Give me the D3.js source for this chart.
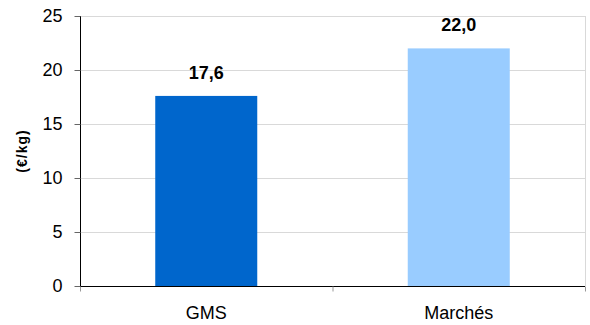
<!DOCTYPE html>
<html>
<head>
<meta charset="utf-8">
<script src="https://cdn.jsdelivr.net/npm/d3@7"></script>
<style>
  body { margin: 0; background: #fff; }
  text { font-family: "Liberation Sans", Arial, sans-serif; fill: #000; }
</style>
</head>
<body>
<svg id="chart"></svg>
<script>
// prix moyen par circuit
const categories = ["GMS", "Marchés"];
const values = [17.6, 22.0];
const barColors = ["#0066CC", "#99CCFF"];
const yTicks = [0, 5, 10, 15, 20, 25];

const width = 590, height = 325;
const margin = {top: 16, right: 5, bottom: 39, left: 80};

var svg = d3.select('svg#chart')
  .attr('width', width)
  .attr('height', height);

var x = d3.scaleBand()
  .domain(categories)
  .range([margin.left, width - margin.right])
  .paddingInner(0.596)
  .paddingOuter(0.298);

var y = d3.scaleLinear()
  .domain([0, 25])
  .range([height - margin.bottom, margin.top]);

// gridlines
svg.append('g')
  .selectAll('line')
  .data(yTicks.filter(d => d > 0))
  .enter().append('line')
  .attr('x1', margin.left)
  .attr('x2', width - margin.right)
  .attr('y1', d => y(d) + 0.5)
  .attr('y2', d => y(d) + 0.5)
  .style('stroke', '#d9d9d9');

// right border
svg.append('line')
  .attr('x1', width - margin.right + 0.5)
  .attr('x2', width - margin.right + 0.5)
  .attr('y1', margin.top)
  .attr('y2', height - margin.bottom)
  .style('stroke', '#d9d9d9');

// bars
svg.append('g')
  .selectAll('rect')
  .data(values)
  .enter().append('rect')
  .attr('x', (d, i) => x(categories[i]))
  .attr('width', x.bandwidth())
  .attr('y', d => y(d))
  .attr('height', d => y(0) - y(d))
  .style('fill', (d, i) => barColors[i]);

// value labels
svg.append('g')
  .selectAll('text')
  .data(values)
  .enter().append('text')
  .attr('x', (d, i) => x(categories[i]) + x.bandwidth() / 2)
  .attr('y', d => y(d) - 17)
  .attr('text-anchor', 'middle')
  .style('font-size', '18px')
  .style('font-weight', 'bold')
  .text(d => d.toFixed(1).replace('.', ','));

// y axis
var yAxis = svg.append('g')
  .attr('transform', 'translate(' + (margin.left + 0.5) + ',0)')
  .call(d3.axisLeft(y).tickValues(yTicks).tickSize(6).tickPadding(12));
yAxis.select('.domain').attr('d', 'M0,' + margin.top + 'V' + (height - margin.bottom + 0.5)).style('stroke', '#000');
yAxis.selectAll('.tick line').style('stroke', '#666');
yAxis.selectAll('.tick text').style('font-size', '18px').attr('font-family', null);

// x axis
var xAxis = svg.append('g')
  .attr('transform', 'translate(0,' + (y(0) + 0.5) + ')');
xAxis.append('line')
  .attr('x1', margin.left)
  .attr('x2', width - margin.right)
  .style('stroke', '#000');
xAxis.selectAll('line.tk')
  .data([0, 1, 2])
  .enter().append('line')
  .attr('class', 'tk')
  .attr('x1', i => margin.left + 0.5 + i * (width - margin.right - margin.left) / categories.length)
  .attr('x2', i => margin.left + 0.5 + i * (width - margin.right - margin.left) / categories.length)
  .attr('y1', 0)
  .attr('y2', 5)
  .style('stroke', '#999');
xAxis.selectAll('text')
  .data(categories)
  .enter().append('text')
  .attr('x', d => x(d) + x.bandwidth() / 2)
  .attr('y', 32)
  .attr('text-anchor', 'middle')
  .style('font-size', '18px')
  .text(d => d);

// axis title
svg.append('text')
  .attr('transform', 'translate(27,' + ((margin.top + height - margin.bottom) / 2) + ') rotate(-90)')
  .attr('text-anchor', 'middle')
  .style('font-size', '14px')
  .style('font-weight', 'bold')
  .style('letter-spacing', '1px')
  .text('(€/kg)');
</script>
</body>
</html>
